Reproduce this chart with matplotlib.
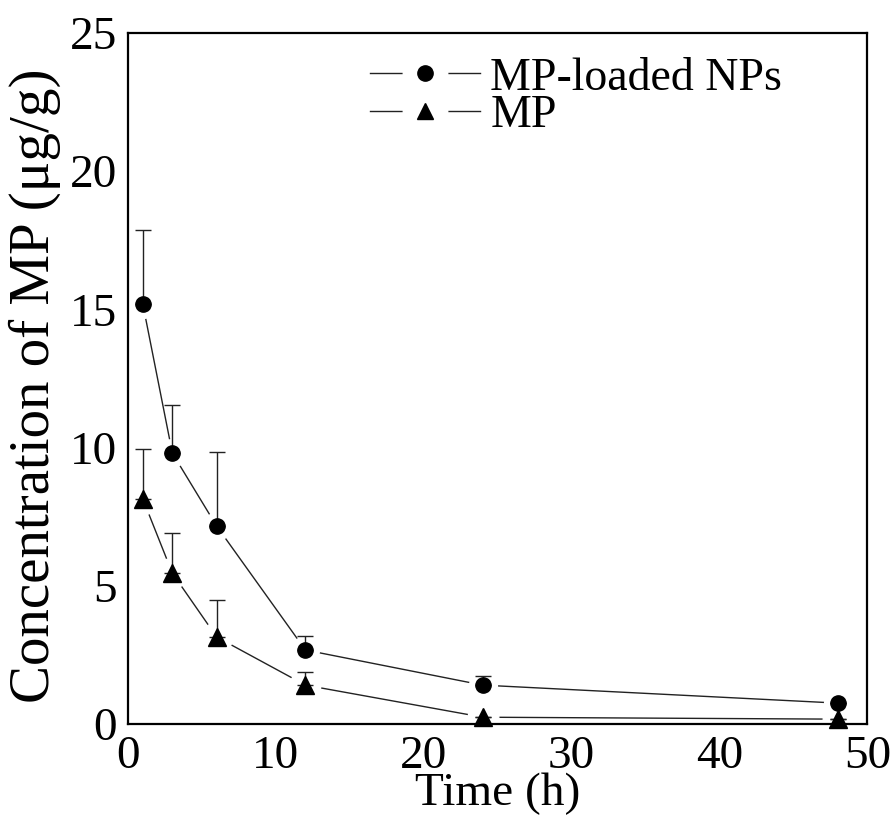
import numpy as np
import matplotlib
matplotlib.use("Agg")
import matplotlib.pyplot as plt
from matplotlib.lines import Line2D

plt.rcParams['font.family'] = ['Liberation Serif', 'DejaVu Serif']

# sampling times (h)
time_h = [1, 3, 6, 12, 24, 48]

# MP-loaded NPs: mean and upper SD
np_mean = [15.2, 9.8, 7.16, 2.68, 1.41, 0.76]
np_sd = [2.67, 1.74, 2.68, 0.50, 0.33, 0.0]

# free MP: mean and upper SD
mp_mean = [8.15, 5.46, 3.15, 1.41, 0.25, 0.18]
mp_sd = [1.80, 1.45, 1.34, 0.47, 0.0, 0.0]

LINE_C = '#222222'

fig = plt.figure(figsize=(8.95, 8.21), dpi=100)
ax = fig.add_axes([0.143, 0.118, 0.826, 0.842])

def draw_series(x, y, err, marker, ms):
    # thin connecting line, white halo to open a gap, error bar, then the marker
    ax.plot(x, y, '-', color=LINE_C, lw=1.0, zorder=1)
    ax.plot(x, y, linestyle='none', marker='o', ms=ms + 9, mfc='white', mec='white', zorder=2)
    lower = np.zeros(len(err))
    ax.errorbar(x, y, yerr=[lower, err], fmt='none', ecolor=LINE_C, elinewidth=1.0,
                capsize=6, capthick=1.0, zorder=3)
    ax.plot(x, y, linestyle='none', marker=marker, ms=ms, mfc='black', mec='black', zorder=4,
            clip_on=False)

draw_series(time_h, np_mean, np_sd, 'o', 11)
draw_series(time_h, mp_mean, mp_sd, '^', 13)

ax.set_xlim(0, 50)
ax.set_ylim(0, 25)
ax.set_xticks([0, 10, 20, 30, 40, 50])
ax.set_yticks([0, 5, 10, 15, 20, 25])
ax.tick_params(length=0, labelsize=34, pad=8)
for s in ax.spines.values():
    s.set_linewidth(1.6)

ax.set_xlabel('Time (h)', fontsize=34, labelpad=-4)
ax.set_ylabel('Concentration of MP (μg/g)', fontsize=41, labelpad=0)
ax.yaxis.set_label_coords(-0.09, 0.49)

def legend_handle(marker, ms):
    halo = Line2D([], [], color=LINE_C, lw=1.0, marker='o', ms=32,
                  mfc='white', mec='white')
    dot = Line2D([], [], linestyle='none', marker=marker, ms=ms, mfc='black', mec='black')
    return (halo, dot)

handles = [legend_handle('o', 11), legend_handle('^', 11)]
ax.legend(handles, ['MP-loaded NPs', 'MP'], loc='upper left', frameon=False, fontsize=33,
          handlelength=2.4, handletextpad=0.22, labelspacing=-0.1,
          borderpad=0, borderaxespad=0, bbox_to_anchor=(0.3275, 0.965))

fig.savefig('out.png', dpi=100)
